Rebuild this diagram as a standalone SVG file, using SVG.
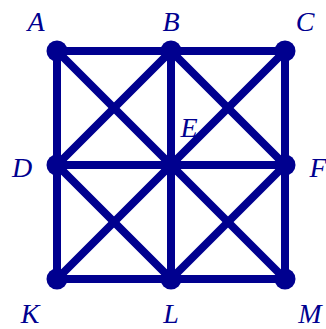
<svg xmlns="http://www.w3.org/2000/svg" width="326" height="329" viewBox="0 0 326 329">
<style>
.e{stroke:#00008F;stroke-width:8;stroke-linecap:round}
.n{fill:#00008F}
.t{font-family:"Liberation Serif",serif;font-style:italic;font-size:28px;fill:#00008F;text-anchor:middle}
</style>
<rect width="326" height="329" fill="#fff"/>
<g id="edges">
<line class="e" x1="57" y1="51" x2="285" y2="51"/>
<line class="e" x1="57" y1="165" x2="285" y2="165"/>
<line class="e" x1="57" y1="279" x2="285" y2="279"/>
<line class="e" x1="57" y1="51" x2="57" y2="279"/>
<line class="e" x1="171" y1="51" x2="171" y2="279"/>
<line class="e" x1="285" y1="51" x2="285" y2="279"/>
<line class="e" x1="57" y1="51" x2="285" y2="279"/>
<line class="e" x1="285" y1="51" x2="57" y2="279"/>
<line class="e" x1="171" y1="51" x2="57" y2="165"/>
<line class="e" x1="171" y1="51" x2="285" y2="165"/>
<line class="e" x1="57" y1="165" x2="171" y2="279"/>
<line class="e" x1="285" y1="165" x2="171" y2="279"/>
</g>
<g id="A"><circle class="n" cx="57" cy="51" r="10.5"/><text class="t" x="36" y="31">A</text></g>
<g id="B"><circle class="n" cx="171" cy="51" r="10.5"/><text class="t" x="171" y="31">B</text></g>
<g id="C"><circle class="n" cx="285" cy="51" r="10.5"/><text class="t" x="305" y="31">C</text></g>
<g id="D"><circle class="n" cx="57" cy="165" r="10.5"/><text class="t" x="22" y="177">D</text></g>
<g id="E"><circle class="n" cx="171" cy="165" r="10.5"/><text class="t" x="189" y="137">E</text></g>
<g id="F"><circle class="n" cx="285" cy="165" r="10.5"/><text class="t" x="318" y="177">F</text></g>
<g id="K"><circle class="n" cx="57" cy="279" r="10.5"/><text class="t" x="30" y="323">K</text></g>
<g id="L"><circle class="n" cx="171" cy="279" r="10.5"/><text class="t" x="171" y="323">L</text></g>
<g id="M"><circle class="n" cx="285" cy="279" r="10.5"/><text class="t" x="310" y="323">M</text></g>
</svg>
